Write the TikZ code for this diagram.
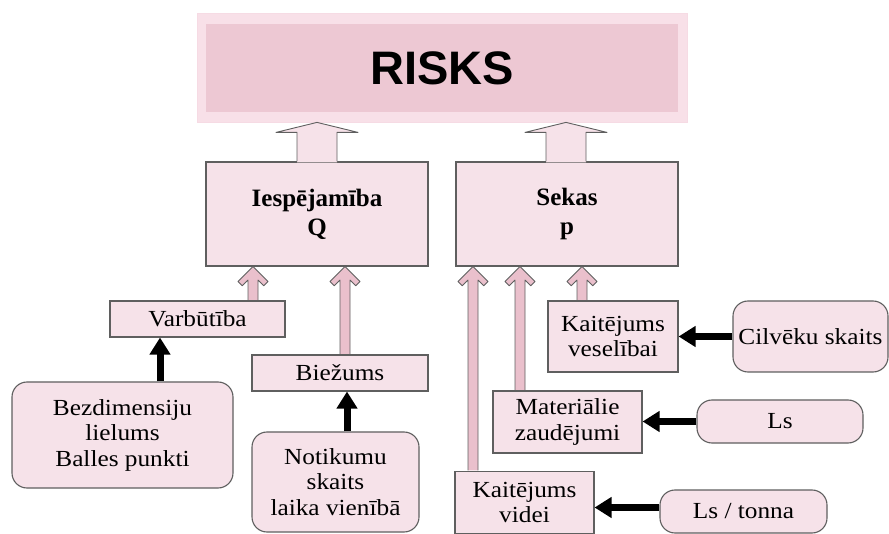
\documentclass[tikz,border=0pt]{standalone}
\usepackage{fontspec}
\setmainfont{Liberation Serif}
\newfontfamily\regfont[FakeStretch=1.1]{Liberation Serif}
\newfontfamily\headfont{Liberation Sans}
\usetikzlibrary{arrows.meta,calc}
\definecolor{boxpink}{RGB}{246,226,233}
\definecolor{outerpink}{RGB}{248,224,232}
\definecolor{innerpink}{RGB}{237,200,211}
\definecolor{arrowpink}{RGB}{234,192,204}
\definecolor{linegray}{RGB}{95,95,95}
\newcommand{\pinkup}[2]{%
  \path let \p1=#1, \p2=#2 in
   [fill=arrowpink, draw=linegray, line width=0.8pt, line join=round]
   (\x1-5pt,\y1+0.6pt) -- (\x1-5pt,\y2-13.5pt) -- (\x1-10.8pt,\y2-19.2pt) --
   (\x1-15pt,\y2-15pt) -- (\x1,\y2) -- (\x1+15pt,\y2-15pt) --
   (\x1+10.8pt,\y2-19.2pt) -- (\x1+5pt,\y2-13.5pt) -- (\x1+5pt,\y1+0.6pt);
}
\newcommand{\bigup}[2]{%
  \path let \p1=#1, \p2=#2 in
   [fill=boxpink] (\x1-20pt,\y1-1pt) -- (\x1-20pt,\y2-10pt) -- (\x1-41pt,\y2-10pt) --
   (\x1,\y2) -- (\x1+41pt,\y2-10pt) -- (\x1+20pt,\y2-10pt) -- (\x1+20pt,\y1-1pt) -- cycle;
  \path let \p1=#1, \p2=#2 in
   [draw=linegray, line width=0.9pt, line join=round]
   (\x1-20pt,\y1) -- (\x1-20pt,\y2-10pt) -- (\x1-41pt,\y2-10pt) --
   (\x1,\y2) -- (\x1+41pt,\y2-10pt) -- (\x1+20pt,\y2-10pt) -- (\x1+20pt,\y1);
}
\begin{document}
\begin{tikzpicture}[x=1pt,y=-1pt,
  sqbox/.style={draw=linegray, line width=1.1pt, fill=boxpink, inner sep=0pt,
    align=center, font=\fontsize{23}{25.5}\regfont},
  rbox/.style={sqbox, rounded corners=15pt},
  bigbox/.style={draw=linegray, line width=1.1pt, fill=boxpink, inner sep=0pt,
    align=center, minimum width=222pt, minimum height=104pt,
    font=\fontsize{25}{29}\selectfont\bfseries},
  blackarrow/.style={draw=black, line width=7pt,
    -{Triangle[width=20pt,length=17pt]}}
]
\useasboundingbox (0,0) rectangle (889,534);
% RISKS
\node[fill=outerpink, draw=outerpink!80!innerpink, line width=0.8pt,
  minimum width=490pt, minimum height=109pt, inner sep=0pt] (outer) at (442,67.5) {};
\node[fill=innerpink, minimum width=472pt, minimum height=88pt, inner sep=0pt,
  font=\fontsize{47}{50}\headfont\bfseries] (risks) at (442,68) {RISKS};
% main boxes
\node[bigbox] (iesp) at (317,214) {Iespējamība\\Q};
\node[bigbox] (sekas) at (567,214) {Sekas\\p};
% left side
\node[sqbox, minimum width=175pt, minimum height=36pt] (varb) at (197.5,319) {Varbūtība};
\node[sqbox, minimum width=176pt, minimum height=36pt] (biez) at (340,373) {Biežums};
\node[rbox, minimum width=221pt, minimum height=106pt] (bezd) at (122.5,435) {Bezdimensiju\\lielums\\Balles punkti};
\node[rbox, minimum width=167pt, minimum height=100pt] (notik) at (335.5,482) {Notikumu\\skaits\\laika vienībā};
% right side
\node[sqbox, minimum width=130pt, minimum height=71pt] (kvesel) at (613,336.5) {Kaitējums\\veselībai};
\node[rbox, minimum width=155pt, minimum height=71pt] (cilv) at (810.5,336.5) {Cilvēku skaits};
\node[sqbox, minimum width=149pt, minimum height=62pt] (mater) at (567.5,422) {Materiālie\\zaudējumi};
\node[rbox, minimum width=166pt, minimum height=43pt] (ls) at (780,421.5) {Ls};
\node[sqbox, minimum width=139pt, minimum height=62pt] (kvidei) at (524.5,502.5) {Kaitējums\\videi};
\node[rbox, minimum width=167pt, minimum height=43pt] (lston) at (743.5,511.5) {Ls / tonna};
% big hollow arrows
\coordinate (ba1) at (317,0);
\coordinate (ba2) at (566,0);
\bigup{(ba1 |- iesp.north)}{(ba1 |- outer.south)}
\bigup{(ba2 |- sekas.north)}{(ba2 |- outer.south)}
% pink arrows
\coordinate (pa1) at (253,0);
\coordinate (pa2) at (345,0);
\coordinate (pa3) at (473,0);
\coordinate (pa4) at (520,0);
\coordinate (pa5) at (582,0);
\pinkup{(pa1 |- varb.north)}{(pa1 |- iesp.south)}
\pinkup{(pa2 |- biez.north)}{(pa2 |- iesp.south)}
\pinkup{(pa3 |- kvidei.north)}{(pa3 |- sekas.south)}
\pinkup{(pa4 |- mater.north)}{(pa4 |- sekas.south)}
\pinkup{(pa5 |- kvesel.north)}{(pa5 |- sekas.south)}
% black arrows
\coordinate (ka1) at (160,0);
\coordinate (ka2) at (347,0);
\coordinate (lsa) at ([yshift=4pt]lston.west);
\draw[blackarrow] (ka1 |- bezd.north) -- (ka1 |- varb.south);
\draw[blackarrow] (ka2 |- notik.north) -- (ka2 |- biez.south);
\draw[blackarrow] (cilv.west) -- (kvesel.east |- cilv.west);
\draw[blackarrow] (ls.west) -- (mater.east |- ls.west);
\draw[blackarrow] (lsa) -- (kvidei.east |- lsa);
\end{tikzpicture}
\end{document}
